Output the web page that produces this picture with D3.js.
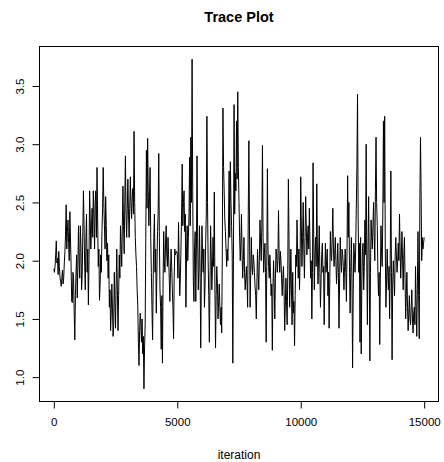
<!DOCTYPE html>
<html><head><meta charset="utf-8">
<script src="https://cdn.jsdelivr.net/npm/d3@7"></script>
<style>body{margin:0;background:#fff}svg{display:block}text{font-family:"Liberation Sans",Arial,sans-serif;fill:#000}</style>
</head><body><svg id="c" width="444" height="462"></svg>
<script>
const title = "Trace Plot";
const xLabel = "iteration";
const step = 25;
const xTicks = [0, 5000, 10000, 15000];
const yTicks = [1.0, 1.5, 2.0, 2.5, 3.0, 3.5];
const values = [
1.93,1.9,1.95,2.05,2.17,1.98,2.02,1.88,2.08,1.95,1.86,1.82,1.78,1.85,1.92,1.8,1.85,1.98,2.08,2.22,2.48,
2.1,2.25,2.35,2.15,2.0,2.42,2.2,1.95,1.65,1.64,1.9,1.85,1.55,1.32,1.7,1.9,2.05,1.68,1.95,2.3,
2.0,1.85,2.3,2.12,1.75,1.88,2.25,2.6,2.3,1.95,1.75,2.2,2.4,1.9,2.1,1.62,2.0,2.6,2.35,2.1,
2.3,2.45,2.2,2.6,2.4,2.1,2.5,2.6,2.2,2.8,2.35,1.95,2.1,1.66,1.8,2.05,1.9,2.25,2.45,2.8,
2.5,2.3,2.1,2.55,2.3,2.0,2.15,1.85,2.05,1.6,1.75,1.4,1.55,1.8,1.6,1.35,1.45,1.9,1.65,1.42,
1.8,2.1,1.75,1.4,1.7,2.05,1.85,2.3,2.15,1.95,2.3,2.64,2.3,2.06,2.5,2.9,2.4,2.2,2.45,2.7,
2.4,2.2,2.45,2.72,2.5,2.36,2.55,2.62,2.4,3.11,2.5,2.2,2.05,1.95,1.75,1.62,1.3,1.1,1.4,1.55,
1.45,1.3,1.5,1.2,1.35,0.9,1.25,1.45,2.2,2.95,2.45,3.05,2.6,2.3,2.55,2.8,2.2,1.9,1.6,1.32,
1.85,2.2,2.4,1.9,2.1,1.55,1.9,2.25,2.4,2.92,2.2,1.75,1.6,1.24,1.7,1.12,1.8,2.25,2.0,1.9,
2.15,2.3,2.05,1.95,2.2,2.03,1.85,1.65,1.9,2.1,1.95,1.75,1.6,1.33,1.85,2.1,2.05,2.07,2.08,2.06,
1.85,2.33,2.0,1.7,1.85,2.1,2.4,2.83,2.3,2.5,2.6,2.25,2.4,1.6,2.05,2.3,2.0,2.2,2.4,2.89,
2.3,3.06,2.5,3.73,2.6,1.83,1.65,2.1,2.25,1.65,2.1,2.9,2.2,1.75,1.9,2.3,1.9,1.25,1.85,2.3,
2.05,1.9,2.1,1.6,1.8,2.15,2.4,3.24,2.5,2.0,1.7,1.3,1.8,2.3,2.05,1.75,1.95,2.2,1.95,2.59,
1.75,1.25,1.7,1.95,1.8,1.5,1.65,1.8,1.6,1.45,1.6,1.38,2.1,3.31,2.8,2.6,2.35,2.25,2.1,1.95,
2.1,2.0,2.3,2.77,2.2,2.85,2.5,2.3,2.05,1.12,2.0,3.34,2.4,2.75,2.6,3.2,2.7,3.45,2.8,2.5,
2.2,2.0,2.15,2.4,2.05,1.85,2.0,2.2,1.9,1.75,1.85,1.95,1.8,1.6,2.4,3.03,2.3,1.6,1.9,2.2,
1.95,1.88,2.05,2.0,1.9,1.78,1.7,1.5,1.8,2.1,1.9,1.75,2.0,2.35,2.15,2.0,2.3,2.99,2.2,1.9,
2.05,2.15,1.9,1.3,1.95,2.79,2.1,1.95,1.85,2.05,1.9,1.7,1.8,1.23,1.75,2.0,1.8,1.5,1.85,2.1,
2.05,1.9,2.0,2.43,2.05,1.9,2.08,2.0,1.85,1.7,1.85,1.95,1.75,1.4,1.6,1.85,1.65,1.45,1.9,2.7,
2.2,1.6,1.8,2.1,1.75,1.45,1.9,1.55,1.65,1.27,1.7,2.05,1.95,2.35,2.05,1.85,2.1,1.75,2.0,2.72,
2.3,1.95,2.2,2.5,2.1,1.85,2.2,2.55,2.3,2.05,2.2,2.3,2.1,2.45,2.15,1.85,2.0,1.5,1.9,2.84,
2.2,1.75,2.05,2.2,1.95,2.66,2.1,1.8,2.05,2.3,1.9,1.6,1.85,2.05,2.15,1.9,1.95,1.45,1.85,2.15,
1.9,2.0,2.1,1.7,1.9,1.42,1.8,2.25,2.05,2.0,2.2,2.45,2.1,1.95,2.05,2.2,2.0,1.8,1.95,2.15,
1.9,1.42,1.85,2.2,2.0,1.9,2.1,2.05,1.95,1.75,1.95,2.1,1.9,1.65,2.1,2.73,2.2,2.5,1.95,1.55,
1.9,2.2,1.85,1.08,1.7,2.15,2.05,1.9,2.1,2.45,2.8,3.43,2.4,1.9,2.15,1.3,2.2,1.2,1.8,2.1,
2.15,1.75,1.95,2.35,2.05,3.0,2.0,1.45,2.1,2.55,2.0,1.14,1.9,2.35,2.2,2.1,2.3,2.5,2.2,2.0,
2.6,3.06,2.5,2.3,1.9,1.7,1.9,1.28,1.85,2.3,2.05,1.95,2.4,3.2,2.5,3.24,2.1,1.6,1.8,2.1,
1.9,1.75,1.95,1.5,2.0,2.77,1.9,1.15,1.8,2.0,1.85,1.7,2.05,2.2,2.05,1.9,2.0,2.15,2.0,2.4,
2.1,1.85,2.05,2.25,2.0,1.75,2.05,2.2,1.85,1.5,1.7,1.9,1.6,1.4,1.55,1.7,1.5,1.45,1.6,1.75,
1.5,1.38,1.55,1.6,1.45,1.95,1.6,1.35,1.8,2.25,1.7,1.33,2.5,3.06,2.6,2.0,2.2,2.1,2.15,2.2
];
const iterations = values.map((v, i) => i * step);

const svg = d3.select("#c");
const L = 39, R = 439, T = 46, B = 402;
const xr = d3.extent(iterations), yr = d3.extent(values);
const xp = (xr[1] - xr[0]) * 0.04, yp = (yr[1] - yr[0]) * 0.04;
const x = d3.scaleLinear().domain([xr[0] - xp, xr[1] + xp]).range([L, R]);
const y = d3.scaleLinear().domain([yr[0] - yp, yr[1] + yp]).range([B, T]);

const line = d3.line().x((d, i) => x(iterations[i])).y(d => y(d));
svg.append("path").datum(values).attr("d", line)
  .attr("fill", "none").attr("stroke", "#000").attr("stroke-width", 1);

svg.append("rect").attr("x", L + 0.5).attr("y", T + 0.5)
  .attr("width", R - L - 1).attr("height", B - T - 1)
  .attr("fill", "none").attr("stroke", "#000").attr("stroke-width", 1);

const xa = svg.append("g").attr("transform", `translate(0,${B - 0.5})`)
  .call(d3.axisBottom(x).tickValues(xTicks).tickSize(7).tickPadding(9).tickFormat(d3.format("d")));
xa.selectAll("text").attr("font-size", "11.5px").attr("fill", "#000");
xa.select(".domain").attr("d", `M${x(xTicks[0])},0H${x(xTicks[xTicks.length-1])}`);

const ya = svg.append("g").attr("transform", `translate(${L + 0.5},0)`)
  .call(d3.axisLeft(y).tickValues(yTicks).tickSize(7).tickFormat(d3.format(".1f")));
ya.select(".domain").attr("d", `M0,${y(yTicks[0])}V${y(yTicks[yTicks.length-1])}`);
ya.selectAll(".tick text").attr("font-size", "11.5px").attr("fill", "#000")
  .attr("text-anchor", "middle").attr("x", null).attr("dy", null)
  .attr("transform", "translate(-20,0) rotate(-90)").attr("dominant-baseline", "central");

svg.append("text").attr("x", (L + R) / 2).attr("y", 22).attr("text-anchor", "middle")
  .attr("font-size", "14.5px").attr("font-weight", "bold").text(title);
svg.append("text").attr("x", (L + R) / 2).attr("y", 459).attr("text-anchor", "middle")
  .attr("font-size", "12px").text(xLabel);
</script></body></html>
